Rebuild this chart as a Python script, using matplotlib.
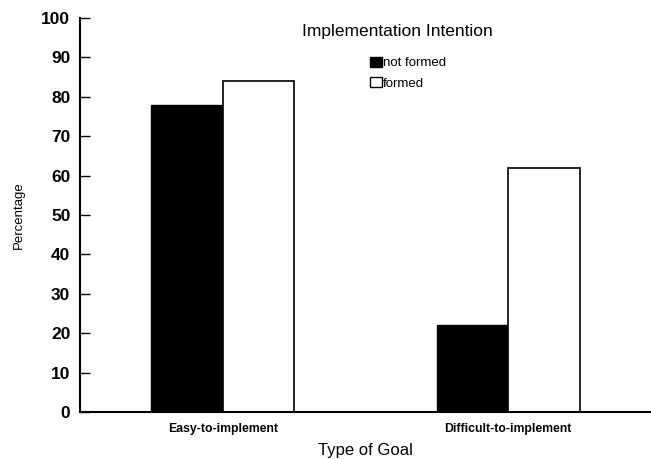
import numpy as np
import matplotlib.pyplot as plt
from matplotlib.patches import Patch

plt.rcParams['font.family'] = ['Liberation Sans', 'DejaVu Sans']

goal_types = ['Easy-to-implement', 'Difficult-to-implement']
not_formed = [78, 22]
formed = [84, 62]
y_ticks = list(range(0, 101, 10))

fig = plt.figure(figsize=(6.51, 4.59), dpi=100)
ax = fig.add_axes([0.123, 0.1024, 0.877, 0.8586])

x = np.arange(len(goal_types))
w = 0.25
ax.bar(x - w / 2, not_formed, w, color='black', edgecolor='black', linewidth=1)
ax.bar(x + w / 2, formed, w, color='white', edgecolor='black', linewidth=1.2)

ax.set_xlim(-0.5, 1.5)
ax.set_ylim(0, 100)
ax.set_yticks(y_ticks)
ax.set_yticklabels([str(t) for t in y_ticks], fontsize=12.5, fontweight='bold')
ax.set_xticks(x)
ax.set_xticklabels(goal_types, fontsize=8.8, fontweight='bold')
ax.tick_params(axis='y', direction='in', length=7, width=1, pad=7)
ax.tick_params(axis='x', length=0, pad=8)

for s in ['top', 'right']:
    ax.spines[s].set_visible(False)
ax.spines['left'].set_linewidth(1.5)
ax.spines['bottom'].set_linewidth(1.5)

ax.set_ylabel('Percentage', fontsize=9.5, labelpad=12)
ax.set_xlabel('Type of Goal', fontsize=12, labelpad=6)

fig.text(0.61, 0.932, 'Implementation Intention', fontsize=12.5, ha='center', va='center')

handles = [Patch(facecolor='black', edgecolor='black', label='not formed'),
           Patch(facecolor='white', edgecolor='black', label='formed')]
ax.legend(handles=handles, loc='upper left', bbox_to_anchor=(0.508, 0.902),
          frameon=False, fontsize=9.5, handlelength=0.9, handleheight=0.8,
          handletextpad=0.1, labelspacing=0.6, borderpad=0, borderaxespad=0)

fig.savefig('out.png', dpi=100)
